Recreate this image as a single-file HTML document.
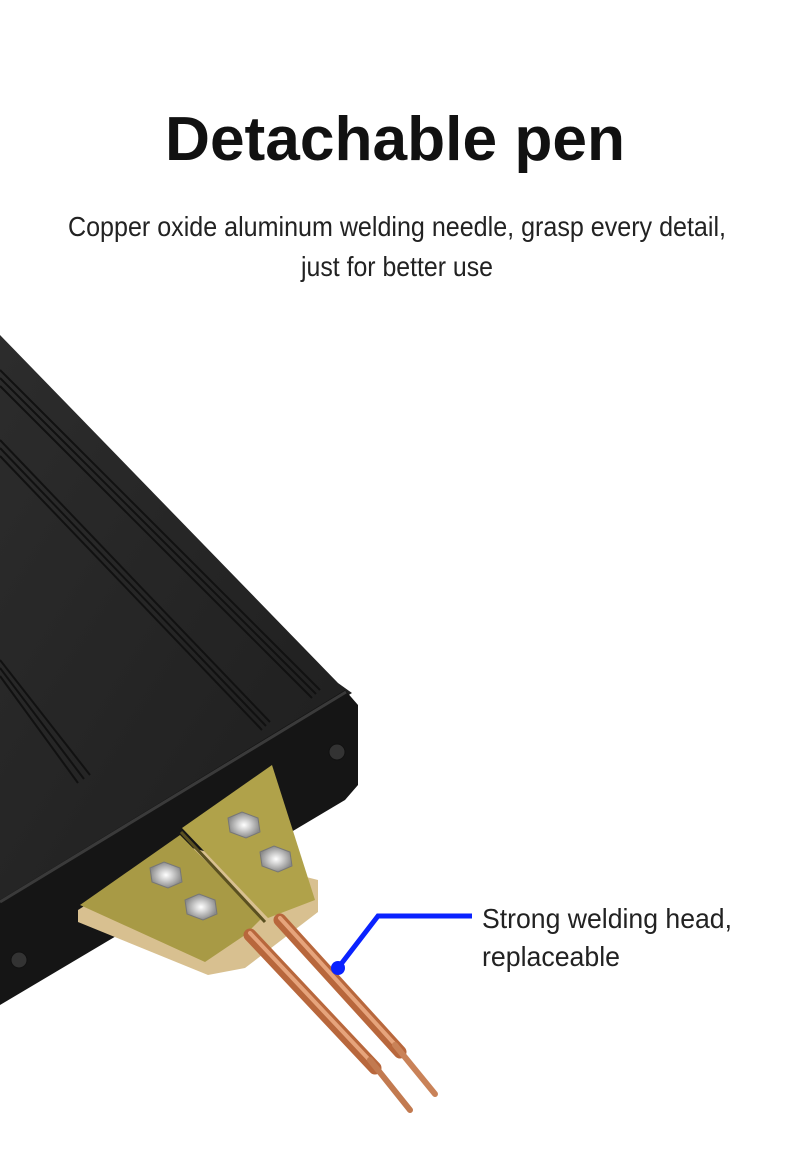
<!DOCTYPE html>
<html><head><meta charset="utf-8"><style>
html,body{margin:0;padding:0;background:#fff;}
svg{display:block}
</style></head><body>
<svg width="790" height="1176" viewBox="0 0 790 1176" xmlns="http://www.w3.org/2000/svg">
<defs>
<linearGradient id="top" x1="0" y1="0" x2="1" y2="1">
<stop offset="0" stop-color="#2c2c2c"/><stop offset="1" stop-color="#1e1e1e"/>
</linearGradient>
<radialGradient id="nut"><stop offset="0" stop-color="#ffffff"/><stop offset="0.35" stop-color="#d8d8d8"/><stop offset="1" stop-color="#8a8a8a"/></radialGradient>
</defs>
<rect width="790" height="1176" fill="#fff"/>
<text x="395" y="160" text-anchor="middle" font-family="Liberation Sans, sans-serif" font-weight="bold" font-size="62" fill="#111" textLength="460" lengthAdjust="spacingAndGlyphs">Detachable pen</text>
<text x="397" y="236" text-anchor="middle" font-family="Liberation Sans, sans-serif" font-size="28" fill="#222" textLength="658" lengthAdjust="spacingAndGlyphs">Copper oxide aluminum welding needle, grasp every detail,</text>
<text x="397" y="276" text-anchor="middle" font-family="Liberation Sans, sans-serif" font-size="28" fill="#222" textLength="192" lengthAdjust="spacingAndGlyphs">just for better use</text>

<polygon points="0,335 338,683 352,693 0,905" fill="url(#top)"/>
<g stroke="#111" stroke-width="2" fill="none">
<line x1="0" y1="370" x2="320" y2="690"/>
<line x1="0" y1="378" x2="316" y2="694"/>
<line x1="0" y1="386" x2="312" y2="698"/>
<line x1="0" y1="440" x2="270" y2="722"/>
<line x1="0" y1="448" x2="266" y2="726"/>
<line x1="0" y1="456" x2="262" y2="730"/>
<line x1="0" y1="660" x2="90" y2="775"/>
<line x1="0" y1="668" x2="84" y2="779"/>
<line x1="0" y1="676" x2="78" y2="783"/>
</g>
<polygon points="0,900 345,690 358,705 358,785 345,800 0,1005" fill="#151515"/>
<line x1="0" y1="902" x2="346" y2="692" stroke="#3a3a3a" stroke-width="3"/>
<circle cx="337" cy="752" r="8" fill="#333" stroke="#111"/>
<circle cx="19" cy="960" r="8" fill="#333" stroke="#111"/>
<polygon points="78,910 180,845 318,880 318,912 245,968 208,975 78,922" fill="#d8c090"/>
<polygon points="80,905 180,835 262,918 245,935 205,962" fill="#a89a45"/>
<polygon points="182,828 272,765 315,900 268,918" fill="#b0a24a"/>
<line x1="181" y1="832" x2="265" y2="922" stroke="#5a5020" stroke-width="3"/>
<g fill="url(#nut)" stroke="#777">
<polygon points="228,818 242,812 258,818 260,832 246,838 230,832"/>
<polygon points="260,852 274,846 290,852 292,866 278,872 262,866"/>
<polygon points="150,868 164,862 180,868 182,882 168,888 152,882"/>
<polygon points="185,900 199,894 215,900 217,914 203,920 187,914"/>
</g>
<g stroke-linecap="round">
<line x1="250" y1="935" x2="375" y2="1068" stroke="#b8673c" stroke-width="13"/>
<line x1="280" y1="920" x2="400" y2="1052" stroke="#b8673c" stroke-width="13"/>
<line x1="250" y1="933" x2="375" y2="1066" stroke="#e6a47c" stroke-width="4"/>
<line x1="280" y1="918" x2="400" y2="1050" stroke="#e6a47c" stroke-width="4"/>
<line x1="370" y1="1060" x2="410" y2="1110" stroke="#c27a50" stroke-width="6"/>
<line x1="395" y1="1045" x2="435" y2="1094" stroke="#c98258" stroke-width="6"/>
</g>
<polyline points="338,968 378,916 472,916" fill="none" stroke="#0a22ff" stroke-width="5"/>
<circle cx="338" cy="968" r="7" fill="#0a22ff"/>
<text x="482" y="928" font-family="Liberation Sans, sans-serif" font-size="28" fill="#222" textLength="250" lengthAdjust="spacingAndGlyphs">Strong welding head,</text>
<text x="482" y="966" font-family="Liberation Sans, sans-serif" font-size="28" fill="#222" textLength="138" lengthAdjust="spacingAndGlyphs">replaceable</text>
</svg>
</body></html>
